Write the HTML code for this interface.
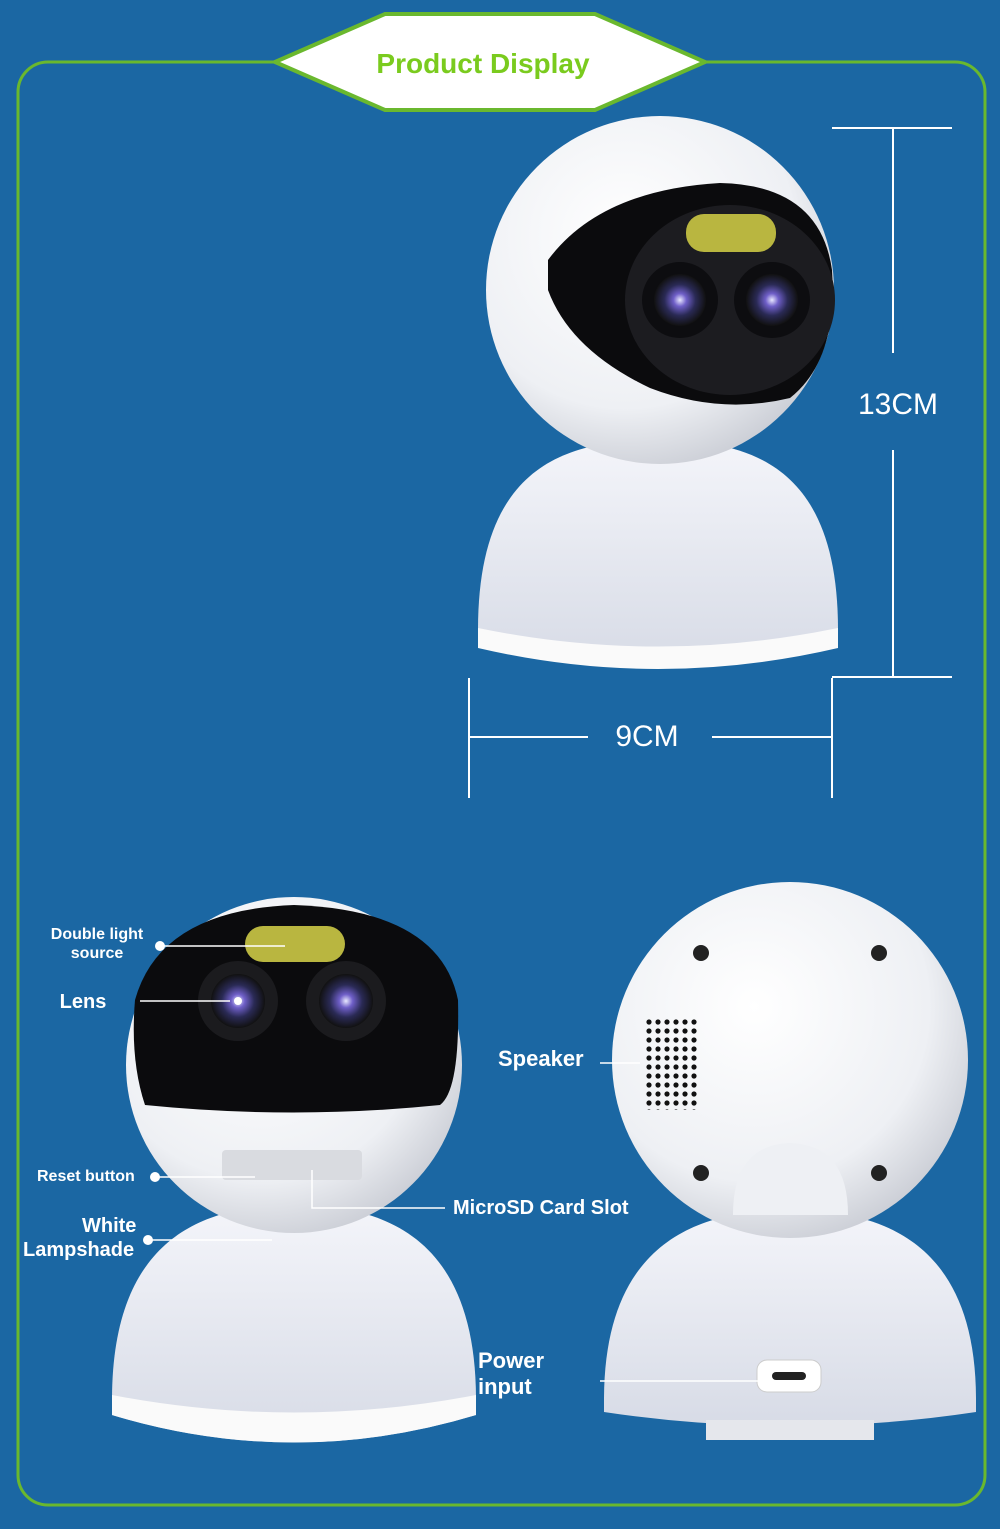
<!DOCTYPE html>
<html><head><meta charset="utf-8"><style>
html,body{margin:0;padding:0;background:#1b67a3;}
svg{display:block}
text{font-family:"Liberation Sans",sans-serif}
</style></head><body>
<svg width="1000" height="1529" viewBox="0 0 1000 1529" xmlns="http://www.w3.org/2000/svg">
<defs>
<radialGradient id="wh" cx="0.4" cy="0.35" r="0.7"><stop offset="0" stop-color="#ffffff"/><stop offset="0.7" stop-color="#eef0f4"/><stop offset="1" stop-color="#c9ccd4"/></radialGradient>
<linearGradient id="dome" x1="0" y1="0" x2="0" y2="1"><stop offset="0" stop-color="#f4f5fa"/><stop offset="1" stop-color="#d7dbe6"/></linearGradient>
<radialGradient id="lens" cx="0.5" cy="0.5" r="0.5"><stop offset="0" stop-color="#e8e8ff"/><stop offset="0.25" stop-color="#6f5fc8"/><stop offset="0.6" stop-color="#2a2a55"/><stop offset="1" stop-color="#111"/></radialGradient>
<pattern id="dots" x="645" y="1018" width="9" height="9" patternUnits="userSpaceOnUse"><circle cx="4" cy="4" r="2.6" fill="#111"/></pattern>
</defs>
<rect width="1000" height="1529" fill="#1b67a3"/>
<rect x="18" y="62" width="967" height="1443" rx="30" fill="none" stroke="#6ab82e" stroke-width="3"/>
<polygon points="275,62 385,14 595,14 705,62 595,110 385,110" fill="#fff" stroke="#6ab82e" stroke-width="4"/>
<text x="483" y="73" text-anchor="middle" font-size="28" font-weight="bold" fill="#7acb1e">Product Display</text>

<!-- camera 1 -->
<path d="M478,630 C478,470 560,440 658,440 C756,440 838,470 838,630 L838,645 Q658,690 478,645Z" fill="url(#dome)"/>
<path d="M478,628 Q658,665 838,628 L838,648 Q658,690 478,648Z" fill="#fafafa"/>
<circle cx="660" cy="290" r="174" fill="url(#wh)"/>
<path d="M548,260 Q600,190 720,183 Q820,185 832,270 Q838,360 790,398 Q720,415 650,388 Q570,350 548,290Z" fill="#0b0b0d"/>
<ellipse cx="730" cy="300" rx="105" ry="95" fill="#1c1c20"/>
<rect x="686" y="214" width="90" height="38" rx="18" fill="#b9b640"/>
<circle cx="680" cy="300" r="38" fill="#0d0d10"/><circle cx="680" cy="300" r="26" fill="url(#lens)"/>
<circle cx="772" cy="300" r="38" fill="#0d0d10"/><circle cx="772" cy="300" r="26" fill="url(#lens)"/>

<g stroke="#fff" stroke-width="2" fill="none">
<path d="M832,128H952M893,128V353M893,450V677M832,677H952M469,678V798M832,678V798M469,737H588M712,737H832"/>
</g>
<text x="898" y="414" text-anchor="middle" font-size="30" fill="#fff">13CM</text>
<text x="647" y="746" text-anchor="middle" font-size="30" fill="#fff">9CM</text>

<!-- camera 2 -->
<path d="M112,1400 C112,1240 200,1205 294,1205 C388,1205 476,1240 476,1400 L476,1415 Q294,1470 112,1415Z" fill="url(#dome)"/>
<path d="M112,1395 Q294,1430 476,1395 L476,1415 Q294,1470 112,1415Z" fill="#fafafa"/>
<circle cx="294" cy="1065" r="168" fill="url(#wh)"/>
<path d="M135,1000 Q160,910 294,905 Q440,910 458,1000 Q460,1090 440,1105 Q294,1120 145,1105 Q130,1060 135,1000Z" fill="#0b0b0d"/>
<rect x="245" y="926" width="100" height="36" rx="18" fill="#b9b640"/>
<circle cx="238" cy="1001" r="40" fill="#1b1b1e"/><circle cx="238" cy="1001" r="27" fill="url(#lens)"/>
<circle cx="346" cy="1001" r="40" fill="#1b1b1e"/><circle cx="346" cy="1001" r="27" fill="url(#lens)"/>
<rect x="222" y="1150" width="140" height="30" rx="4" fill="#d9dbe0"/>

<!-- camera 3 -->
<path d="M604,1400 C604,1240 700,1210 790,1210 C880,1210 976,1240 976,1400 L976,1412 Q790,1440 604,1412Z" fill="url(#dome)"/>
<rect x="706" y="1420" width="168" height="20" fill="#e5e7ec"/>
<circle cx="790" cy="1060" r="178" fill="url(#wh)"/>
<path d="M733,1215 Q733,1145 790,1143 Q848,1145 848,1215Z" fill="#eef0f4"/>
<circle cx="701" cy="953" r="8" fill="#222"/><circle cx="879" cy="953" r="8" fill="#222"/>
<circle cx="701" cy="1173" r="8" fill="#222"/><circle cx="879" cy="1173" r="8" fill="#222"/>
<rect x="645" y="1018" width="54" height="92" fill="url(#dots)"/>
<rect x="757" y="1360" width="64" height="32" rx="10" fill="#fff" stroke="#ccc"/>
<rect x="772" y="1372" width="34" height="8" rx="4" fill="#222"/>

<!-- callouts -->
<g stroke="#fff" stroke-width="1.5" fill="none">
<path d="M160,946H285M140,1001H230M155,1177H255M148,1240H272M312,1170V1208H445M600,1063H640M600,1381H760"/>
</g>
<g fill="#fff"><circle cx="160" cy="946" r="5"/><circle cx="238" cy="1001" r="4"/><circle cx="155" cy="1177" r="5"/><circle cx="148" cy="1240" r="5"/></g>
<g fill="#fff" font-weight="bold">
<text x="97" y="939" text-anchor="middle" font-size="16">Double light</text>
<text x="97" y="958" text-anchor="middle" font-size="16">source</text>
<text x="83" y="1008" text-anchor="middle" font-size="20">Lens</text>
<text x="37" y="1181" font-size="16">Reset button</text>
<text x="82" y="1232" font-size="20">White</text>
<text x="23" y="1256" font-size="20">Lampshade</text>
<text x="453" y="1214" font-size="20">MicroSD Card Slot</text>
<text x="498" y="1066" font-size="22">Speaker</text>
<text x="478" y="1368" font-size="22">Power</text>
<text x="478" y="1394" font-size="22">input</text>
</g>
</svg>
</body></html>
